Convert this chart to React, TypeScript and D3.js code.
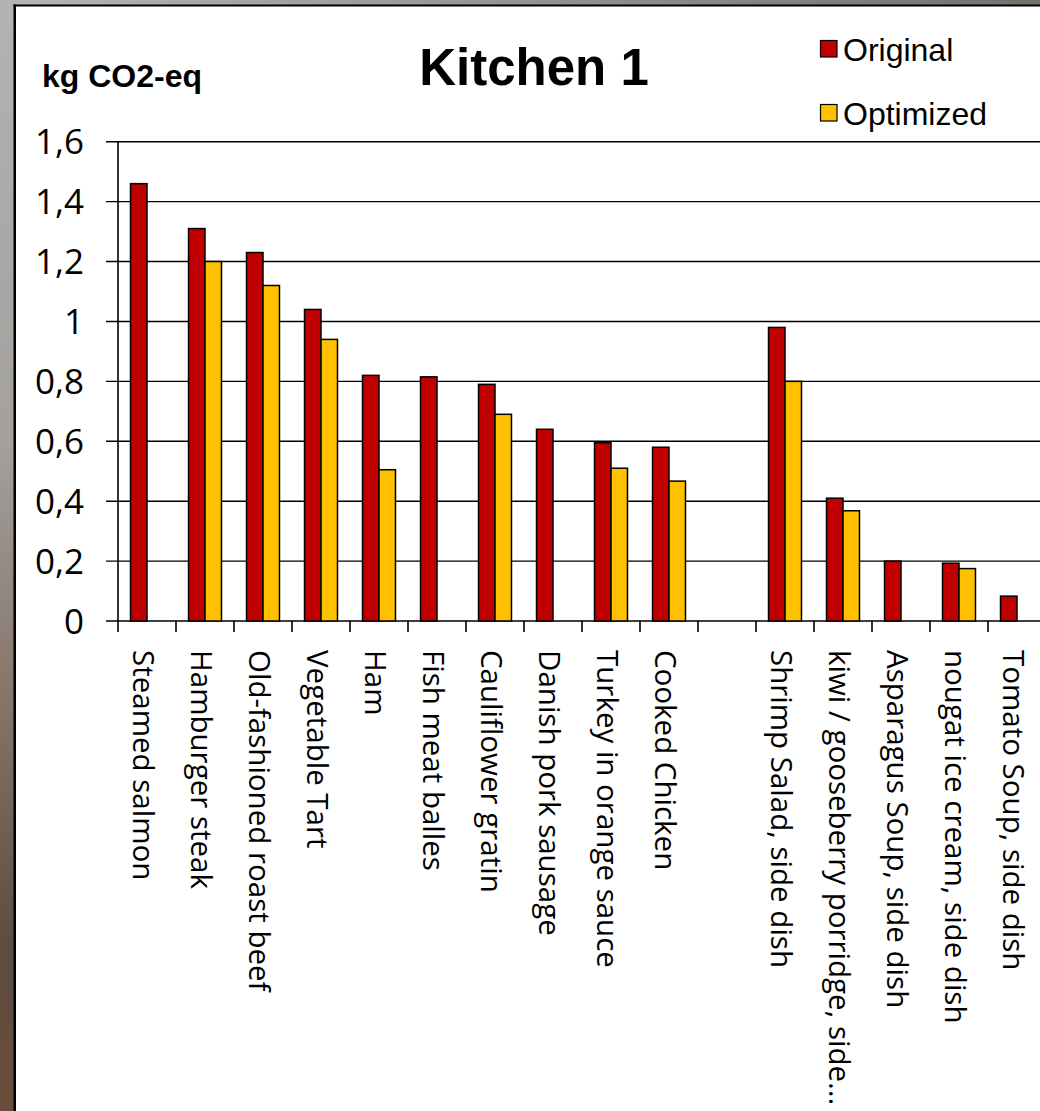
import React from 'react'
import * as d3 from 'd3';

const W = 1040;
const H = 1111;

// categories (the blank one is the gap in the original chart)
const dishes = [
  'Steamed salmon',
  'Hamburger steak',
  'Old-fashioned roast beef',
  'Vegetable Tart',
  'Ham',
  'Fish meat balles',
  'Cauliflower gratin',
  'Danish pork sausage',
  'Turkey in orange sauce',
  'Cooked Chicken',
  '',
  'Shrimp Salad, side dish',
  'kiwi / gooseberry porridge, side...',
  'Asparagus Soup, side dish',
  'nougat ice cream, side dish',
  'Tomato Soup, side dish',
];

const original = [1.46, 1.31, 1.23, 1.04, 0.82, 0.815, 0.79, 0.64, 0.595, 0.58, null, 0.98, 0.41, 0.2, 0.193, 0.083];
const optimized = [null, 1.2, 1.12, 0.94, 0.505, null, 0.69, null, 0.51, 0.467, null, 0.8, 0.368, null, 0.175, null];

const yTicks = [0, 0.2, 0.4, 0.6, 0.8, 1, 1.2, 1.4, 1.6];

const series = [
  { name: 'Original', values: original, color: '#c00000' },
  { name: 'Optimized', values: optimized, color: '#ffc000' },
];

const LABEL_FONT = '"Open Sans", "Noto Sans", sans-serif';
const ARIAL = '"Liberation Sans", Arial, sans-serif';

const App = () => {
  const x = d3.scaleBand<string>()
    .domain(dishes.map((d, i) => i + ''))
    .range([118, 118 + 58 * dishes.length])
    .padding(0);

  const sub = d3.scaleBand<string>()
    .domain(series.map(s => s.name))
    .range([0, x.bandwidth()])
    .paddingInner(0)
    .paddingOuter(0.76);

  const y = d3.scaleLinear().domain([0, 1.6]).range([621, 141.7]);

  const fmt = (v: number) => d3.format('~g')(v).replace('.', ',');
  const x0 = x.range()[0];
  const y0 = y(0);

  return (
    <svg width={W} height={H} style={{ position: 'absolute', left: 0, top: 0 }}>
      <defs>
        <linearGradient id="sideBand" x1="0" y1="0" x2="0" y2="1">
          <stop offset="0" stopColor="#b3b3b3" />
          <stop offset="0.4" stopColor="#a3a09d" />
          <stop offset="0.6" stopColor="#8a7a6f" />
          <stop offset="0.85" stopColor="#5c4c42" />
          <stop offset="1" stopColor="#6b4c3a" />
        </linearGradient>
        <linearGradient id="topBand" x1="0" y1="0" x2="1" y2="0">
          <stop offset="0" stopColor="#b5b5b5" />
          <stop offset="1" stopColor="#76706b" />
        </linearGradient>
      </defs>

      <rect x={0} y={0} width={W} height={H} fill="#fff" />
      <rect x={0} y={0} width={W} height={5} fill="url(#topBand)" />
      <rect x={0} y={0} width={14} height={H} fill="url(#sideBand)" />
      <rect x={13.5} y={4.5} width={W} height={2} fill="#000" />
      <rect x={13.5} y={4.5} width={2.5} height={H} fill="#000" />

      {/* title and unit */}
      <text x={534} y={85} textAnchor="middle" fontFamily={ARIAL} fontWeight="bold" fontSize={51}>Kitchen 1</text>
      <text x={42} y={87} fontFamily={ARIAL} fontWeight="bold" fontSize={32}>kg CO2-eq</text>

      {/* legend */}
      {series.map((s, i) => (
        <g key={s.name} transform={`translate(820,${40 + i * 64})`}>
          <rect x={0.5} y={0.5} width={16.5} height={16.5} fill={s.color} stroke="#000" strokeWidth={1.2} />
          <text x={23} y={20.5} fontFamily={ARIAL} fontSize={32}>{s.name}</text>
        </g>
      ))}

      {/* gridlines + y labels */}
      {yTicks.map(t => (
        <g key={t}>
          <line x1={106} x2={W} y1={y(t)} y2={y(t)} stroke="#000" strokeWidth={1.4} />
          <text x={84} y={y(t) + 12.5} textAnchor="end" fontFamily={LABEL_FONT} fontSize={35}>{fmt(t)}</text>
        </g>
      ))}

      {/* axes */}
      <line x1={x0} x2={x0} y1={y(1.6)} y2={632} stroke="#000" strokeWidth={1.6} />
      {dishes.map((d, i) => (
        <line key={'t' + i} x1={x(i + '')! + 58} x2={x(i + '')! + 58} y1={y0} y2={632} stroke="#000" strokeWidth={1.6} />
      ))}

      {/* bars */}
      {series.map(s => (
        <g key={s.name}>
          {s.values.map((v, i) => v == null ? null : (
            <rect
              key={i}
              x={x(i + '')! + sub(s.name)!}
              y={y(v)}
              width={sub.bandwidth()}
              height={y0 - y(v)}
              fill={s.color}
              stroke="#000"
              strokeWidth={1.5}
            />
          ))}
        </g>
      ))}

      {/* category labels */}
      {dishes.map((d, i) => (
        <text
          key={'l' + i}
          transform={`translate(${x(i + '')! + x.bandwidth() / 2},650) rotate(90)`}
          dy={14}
          fontFamily={LABEL_FONT}
          fontSize={29.5}
        >{d}</text>
      ))}
    </svg>
  );
}

export default App;
